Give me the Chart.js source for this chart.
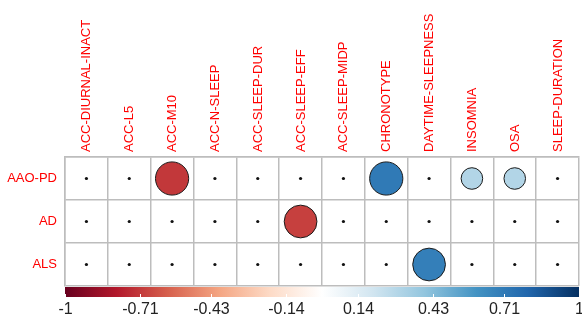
<!DOCTYPE html>
<html>
<head>
<meta charset="utf-8">
<script src="https://cdn.jsdelivr.net/npm/chart.js"></script>
<style>
  html, body { margin: 0; padding: 0; background: #fff; overflow: hidden; }
  #wrap { width: 582px; height: 320px; position: relative; }
  canvas { display: block; }
</style>
</head>
<body>
<div id="wrap"><canvas id="grafico"></canvas></div>
<script>
/* =========================
   DATA
========================= */
const columns = [
  "ACC-DIURNAL-INACT", "ACC-L5", "ACC-M10", "ACC-N-SLEEP", "ACC-SLEEP-DUR",
  "ACC-SLEEP-EFF", "ACC-SLEEP-MIDP", "CHRONOTYPE", "DAYTIME-SLEEPNESS",
  "INSOMNIA", "OSA", "SLEEP-DURATION"
];
const rows = ["AAO-PD", "AD", "ALS"];

const valuesAAOPD = [0, 0, -0.71, 0, 0, 0, 0, 0.71, 0, 0.3, 0.3, 0];
const valuesAD    = [0, 0, 0, 0, 0, -0.69, 0, 0, 0, 0, 0, 0];
const valuesALS   = [0, 0, 0, 0, 0, 0, 0, 0, 0.69, 0, 0, 0];

const scaleTicks = [-1, -0.71, -0.43, -0.14, 0.14, 0.43, 0.71, 1];

// RdBu, -1 .. 1
const palette = ["#67001F", "#B2182B", "#D6604D", "#F4A582", "#FDDBC7", "#FFFFFF",
                 "#D1E5F0", "#92C5DE", "#4393C3", "#2166AC", "#053061"];

/* =========================
   HELPERS
========================= */
function hexToRgb(h) {
  return [1, 3, 5].map(i => parseInt(h.slice(i, i + 2), 16));
}

function colorFor(v) {
  const t = (v + 1) / 2 * (palette.length - 1);
  const i = Math.min(Math.floor(t), palette.length - 2);
  const f = t - i;
  const a = hexToRgb(palette[i]);
  const b = hexToRgb(palette[i + 1]);
  const c = a.map((x, k) => Math.round(x + (b[k] - x) * f));
  return `rgb(${c[0]},${c[1]},${c[2]})`;
}

const points = [];
[valuesAAOPD, valuesAD, valuesALS].forEach((serie, r) => {
  serie.forEach((v, c) => points.push({ x: columns[c], y: rows[r], v }));
});

const FONT = "'Liberation Sans', Arial, sans-serif";
const LEFT_W = 65;
const RIGHT_PAD = 3;

function noPadding(s) {
  s.paddingLeft = 0;
  s.paddingRight = 0;
  s.paddingTop = 0;
  s.paddingBottom = 0;
}

/* =========================
   COLOR BAR
========================= */
const colorBar = {
  id: "colorBar",
  afterDraw(chart) {
    const ctx = chart.ctx;
    const cb = chart.scales.cb;
    const x0 = cb.getPixelForValue(-1);
    const x1 = cb.getPixelForValue(1);
    const top = chart.chartArea.bottom + 1;
    const h = 10;

    const grad = ctx.createLinearGradient(x0, 0, x1, 0);
    palette.forEach((c, i) => grad.addColorStop(i / (palette.length - 1), c));
    ctx.save();
    ctx.fillStyle = grad;
    ctx.fillRect(x0, top, x1 - x0, h);

    ctx.strokeStyle = "#ffffff";
    ctx.lineWidth = 1;
    ctx.fillStyle = "#222222";
    ctx.font = "16px " + FONT;
    ctx.textAlign = "center";
    ctx.textBaseline = "middle";
    scaleTicks.forEach(v => {
      const x = Math.round(cb.getPixelForValue(v)) + 0.5;
      ctx.beginPath();
      ctx.moveTo(x, top + h - 3);
      ctx.lineTo(x, top + h);
      ctx.stroke();
      ctx.fillText(String(v), x, top + h + 13);
    });
    ctx.restore();
  }
};

/* =========================
   CHART
========================= */
new Chart(document.getElementById("grafico"), {
  type: "bubble",
  data: {
    datasets: [{
      data: points,
      backgroundColor: c => c.raw.v === 0 ? "#111111" : colorFor(c.raw.v),
      borderColor: "#1a1a1a",
      borderWidth: c => c.raw.v === 0 ? 0 : 1,
      radius: c => {
        const cell = (c.chart.width - LEFT_W - RIGHT_PAD) / columns.length;
        const v = Math.abs(c.raw.v);
        return v === 0 ? 1.6 : Math.sqrt(v) * cell / 2 * 0.92;
      }
    }]
  },
  options: {
    responsive: true,
    maintainAspectRatio: false,
    animation: false,
    events: [],
    layout: { autoPadding: false, padding: { left: 0, right: RIGHT_PAD, top: 0, bottom: 0 } },
    plugins: { legend: { display: false }, tooltip: { enabled: false } },
    scales: {
      x: {
        type: "category",
        labels: columns,
        position: "top",
        offset: true,
        grid: { offset: true, color: "#bdbdbd", lineWidth: 1.5, drawTicks: false },
        border: { color: "#bdbdbd", width: 1.5 },
        ticks: {
          color: "#ff0000",
          font: { family: FONT, size: 13 },
          minRotation: 90,
          maxRotation: 90,
          autoSkip: false,
          labelOffset: 16,
          padding: 5
        },
        afterFit: s => { s.height = 157; noPadding(s); }
      },
      y: {
        type: "category",
        labels: rows,
        offset: true,
        grid: { offset: true, color: "#bdbdbd", lineWidth: 1.5, drawTicks: false },
        border: { color: "#bdbdbd", width: 1.5 },
        ticks: {
          color: "#ff0000",
          font: { family: FONT, size: 13 },
          padding: 8
        },
        afterFit: s => { s.width = LEFT_W; noPadding(s); }
      },
      cb: {
        type: "linear",
        axis: "x",
        position: "bottom",
        min: -1,
        max: 1,
        grid: { display: false, drawTicks: false },
        border: { display: false },
        ticks: { display: false },
        afterFit: s => { s.height = 34; noPadding(s); }
      }
    }
  },
  plugins: [colorBar]
});
</script>
</body>
</html>
